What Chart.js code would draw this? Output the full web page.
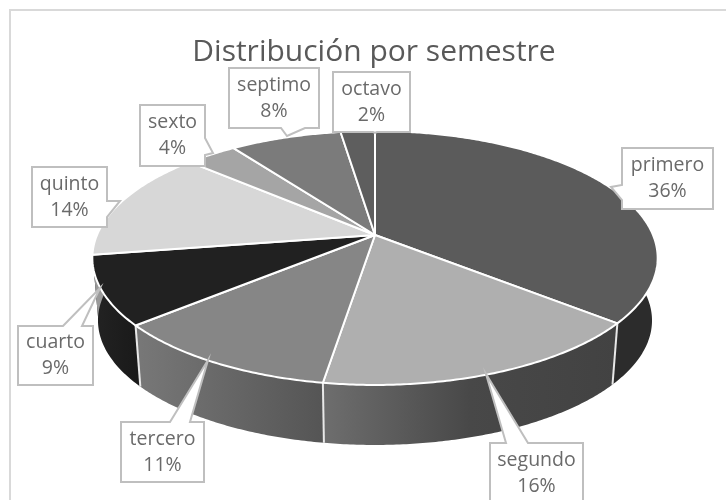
<!DOCTYPE html>
<html><head><meta charset="utf-8">
<style>html,body{margin:0;padding:0;background:#fff}canvas{display:block;filter:blur(0.45px)}</style>
<script src="https://cdn.jsdelivr.net/npm/chart.js@4"></script>
</head><body>
<canvas id="c" width="726" height="500"></canvas>
<script>
const categories = ['primero','segundo','tercero','cuarto','quinto','sexto','septimo','octavo'];
const shares = [37,16.95,11.6,9,14.49,3.6,7.8,2.4];
const topColors = ['#5b5b5b','#afafaf','#868686','#212121','#d7d7d7','#a5a5a5','#7b7b7b','#5e5e5e'];
const wallStops = [['#2c2c2c','#1f1f1f'],['#424242','#484848','#6e6e6e'],['#555555','#787878'],['#1a1a1a','#232323'],['#999','#999'],['#666','#666'],['#444','#444'],['#333','#333']];
// label callouts: [left, top, right, bottom], pointer [tipX, tipY], pointer base [a, b], box side
const calloutBoxes = [[622,148,713,209],[490,443,583,504],[121,422,204,482],[18,326,93,385],[32,167,107,227],[140,105,205,166],[229,68,319,128],[333,72,410,132]];
const calloutTips = [[611,187],[486,374],[208,360],[100,288],[120,201],[213,153],[287,136],[375,133]];
const calloutBases = [[185,200],[506,528],[170,190],[63,82],[201,217],[138,155],[281,305],[373,377]];
const calloutSides = ['left','top','top','top','right','right','bottom','bottom'];

// Projection of the pie's unit circle onto the tilted disc
const CX=375, CY=235, A=278, B=122.8, K=0.181, WALL_DY=63, WALL_S=0.98;
function proj(theta, scale, dy){
  const u=Math.cos(theta), v=Math.sin(theta), w=1-K*v;
  return [CX+scale*A*u/w, CY+dy+scale*B*v/w];
}
function rim(ctx, a0, a1, scale, dy, first){
  const n=Math.max(2,Math.ceil(Math.abs(a1-a0)/0.01));
  for(let i=0;i<=n;i++){
    const p=proj(a0+(a1-a0)*i/n,scale,dy);
    if(i===0&&first)ctx.moveTo(p[0],p[1]);else ctx.lineTo(p[0],p[1]);
  }
}
function drawTop(ctx){
  ctx.save();
  ctx.beginPath();
  ctx.moveTo(CX,CY);
  rim(ctx,this.startAngle,this.endAngle,1,0,false);
  ctx.closePath();
  ctx.fillStyle=this.options.backgroundColor;
  ctx.fill();
  ctx.strokeStyle='#ffffff';
  ctx.lineWidth=2;
  ctx.lineJoin='round';
  ctx.stroke();
  ctx.restore();
}
const disc3d={
  id:'disc3d',
  afterDatasetsUpdate(chart){
    chart.getDatasetMeta(0).data.forEach(a=>{a.draw=drawTop;});
  },
  beforeDraw(chart){
    const ctx=chart.ctx;
    ctx.save();
    ctx.fillStyle='#fff';ctx.fillRect(0,0,726,500);
    ctx.strokeStyle='#d9d9d9';ctx.lineWidth=2;
    ctx.beginPath();ctx.moveTo(10,500);ctx.lineTo(10,10);ctx.lineTo(726,10);ctx.stroke();
    ctx.restore();
  },
  beforeDatasetsDraw(chart){
    const ctx=chart.ctx;
    const arcs=chart.getDatasetMeta(0).data;
    arcs.forEach((arc,i)=>{
      const s=arc.startAngle,e=arc.endAngle;
      if(Math.sin(s)<-0.2&&Math.sin(e)<-0.2)return;
      const p0=proj(s,1,0),p1=proj(e,1,0);
      const g=ctx.createLinearGradient(Math.max(p0[0],p1[0]),0,Math.min(p0[0],p1[0]),0);
      wallStops[i].forEach((c,k,all)=>g.addColorStop(k/(all.length-1),c));
      ctx.save();
      ctx.beginPath();
      rim(ctx,s,e,1,0,true);
      rim(ctx,e,s,WALL_S,WALL_DY,false);
      ctx.closePath();
      ctx.fillStyle=g;
      ctx.fill();
      ctx.restore();
    });
    // separators on the visible wall
    ctx.save();
    ctx.strokeStyle='#e8e8e8';ctx.lineWidth=2;
    arcs.forEach(arc=>{
      const s=arc.endAngle;
      if(Math.sin(s)<=0.3)return;
      const a=proj(s,1,0),b=proj(s,WALL_S,WALL_DY);
      ctx.beginPath();ctx.moveTo(a[0],a[1]);ctx.lineTo(b[0],b[1]);ctx.stroke();
    });
    ctx.restore();
  },
  afterDraw(chart){
    const ctx=chart.ctx;
    const total=shares.reduce((t,v)=>t+v,0);
    ctx.save();
    categories.forEach((name,i)=>{
      const [l,t,r,b]=calloutBoxes[i],[tx,ty]=calloutTips[i],[m,n]=calloutBases[i],side=calloutSides[i];
      ctx.beginPath();
      ctx.moveTo(l,t);
      if(side==='top'){ctx.lineTo(m,t);ctx.lineTo(tx,ty);ctx.lineTo(n,t);}
      ctx.lineTo(r,t);
      if(side==='right'){ctx.lineTo(r,m);ctx.lineTo(tx,ty);ctx.lineTo(r,n);}
      ctx.lineTo(r,b);
      if(side==='bottom'){ctx.lineTo(n,b);ctx.lineTo(tx,ty);ctx.lineTo(m,b);}
      ctx.lineTo(l,b);
      if(side==='left'){ctx.lineTo(l,n);ctx.lineTo(tx,ty);ctx.lineTo(l,m);}
      ctx.closePath();
      ctx.fillStyle='#fff';ctx.fill();
      ctx.strokeStyle='#bfbfbf';ctx.lineWidth=2;ctx.stroke();
      ctx.fillStyle='#6a6a6a';
      ctx.font='19.5px "Open Sans"';
      ctx.textAlign='center';ctx.textBaseline='middle';
      const cx=(l+r)/2,cy=(t+b)/2;
      ctx.fillText(name,cx,cy-13);
      ctx.fillText(Math.round(shares[i]/total*100)+'%',cx,cy+13);
    });
    ctx.restore();
  }
};
new Chart(document.getElementById('c'),{
  type:'pie',
  data:{labels:categories,datasets:[{data:shares,backgroundColor:topColors,borderColor:'#fff',borderWidth:2}]},
  options:{
    responsive:false,animation:false,
    layout:{padding:{left:22}},
    plugins:{
      legend:{display:false},tooltip:{enabled:false},
      title:{display:true,text:'Distribución por semestre',color:'#595959',
        font:{family:'"Open Sans"',size:30,weight:'normal'},padding:{top:34,bottom:0}}
    }
  },
  plugins:[disc3d]
});
</script>
</body></html>
